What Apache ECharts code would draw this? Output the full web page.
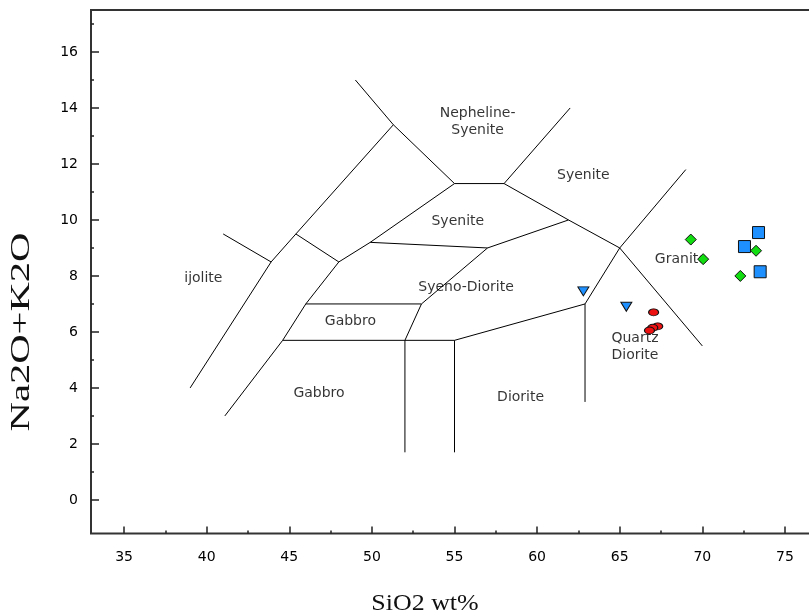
<!DOCTYPE html>
<html><head><meta charset="utf-8">
<script src="https://cdn.jsdelivr.net/npm/echarts@6/dist/echarts.min.js"></script>
<style>html,body{margin:0;padding:0;background:#fff;overflow:hidden;width:809px;height:615px}#c{width:840px;height:615px}</style>
</head><body><div id="c"></div>
<script>
// ---- data ----
const xTicks = [35, 40, 45, 50, 55, 60, 65, 70, 75];
const xMinorTicks = [37.5, 42.5, 47.5, 52.5, 57.5, 62.5, 67.5, 72.5];
const yTicks = [0, 2, 4, 6, 8, 10, 12, 14, 16];
const yMinorTicks = [1, 3, 5, 7, 9, 11, 13, 15, 17];

// field boundary polylines [SiO2, Na2O+K2O]
const boundaries = [
  [[39, 4.0], [43.9, 8.5], [45.4, 9.5], [51.3, 13.4]],
  [[41, 9.5], [43.9, 8.5]],
  [[41.1, 3.0], [44.6, 5.7], [46, 7.0], [48, 8.5], [49.9, 9.2], [55, 11.3]],
  [[45.4, 9.5], [48, 8.5]],
  [[49, 15], [51.3, 13.4], [55, 11.3], [58, 11.3], [62, 14]],
  [[58, 11.3], [61.9, 10], [65, 9], [70, 5.5]],
  [[49.9, 9.2], [57, 9], [61.9, 10]],
  [[46, 7], [53, 7]],
  [[44.6, 5.7], [52, 5.7], [55, 5.7], [62.9, 7]],
  [[52, 1.7], [52, 5.7], [53, 7], [57, 9]],
  [[55, 1.7], [55, 5.7]],
  [[62.9, 3.5], [62.9, 7], [65, 9], [69, 11.8]]
];

// field names and their positions
const fieldNames = ['Nepheline-\nSyenite', 'Syenite', 'Syenite', 'ijolite', 'Syeno-Diorite', 'Gabbro', 'Gabbro', 'Diorite', 'Granite', 'Quartz\nDiorite'];
const fieldPos = [[56.4, 13.5], [62.8, 11.58], [55.2, 9.95], [39.8, 7.92], [55.7, 7.6], [48.7, 6.37], [46.8, 3.82], [59.0, 3.67], [68.7, 8.58], [64.5, 5.46]];

// samples
const triangles = [[62.8, 7.45], [65.4, 6.9]];
const circles = [[67.05, 6.7], [67.3, 6.2], [67.0, 6.15], [66.8, 6.05]];
const diamonds = [[69.3, 9.3], [70.05, 8.6], [73.25, 8.9], [72.3, 8.0]];
const squares = [[73.4, 9.55], [72.55, 9.05], [73.5, 8.15]];

// ---- chart ----
const chart = echarts.init(document.getElementById('c'), null, {renderer: 'canvas'});
const tickFont = {fontFamily: 'DejaVu Sans', fontSize: 14, color: '#000'};

const series = [];
boundaries.forEach(function (b) {
  series.push({
    type: 'line', data: b, symbol: 'none', silent: true,
    lineStyle: {color: '#000', width: 1}, z: 2
  });
});
series.push({
  type: 'scatter', symbolSize: 0, silent: true, z: 3,
  data: fieldNames.map(function (n, i) {
    const item = {name: n, value: fieldPos[i]};
    if (n.indexOf('Quartz') === 0) item.label = {align: 'left'};
    return item;
  }),
  label: {show: true, position: 'inside', formatter: '{b}', color: '#000',
    fontFamily: 'DejaVu Sans', fontSize: 14, lineHeight: 17}
});
const mk = function (data, symbol, size, color, rot) {
  return {type: 'scatter', data: data, symbol: symbol, symbolSize: size, symbolRotate: rot || 0,
    itemStyle: {color: color, borderColor: '#111', borderWidth: 1, opacity: 1}, z: 4};
};
series.push(mk(triangles, 'triangle', [11, 9], '#1e90ff', 180));
series.push(mk(circles, 'circle', [10, 7], '#ee1111'));
series.push(mk(diamonds, 'diamond', [11, 11], '#11dd11'));
series.push(mk(squares, 'rect', [12, 12], '#1e90ff'));

chart.setOption({
  animation: false,
  backgroundColor: '#fff',
  grid: {left: 91, top: 10, width: 727, height: 523.5, show: true, borderColor: '#333', borderWidth: 2, containLabel: false},
  xAxis: [
    {type: 'value', min: 33, max: 77, position: 'bottom',
      axisLine: {show: false, onZero: false}, splitLine: {show: false},
      axisTick: {show: true, inside: true, length: 7, customValues: xTicks, lineStyle: {color: '#222', width: 1.5}},
      axisLabel: Object.assign({show: true, margin: 17, customValues: xTicks}, tickFont)},
    {type: 'value', min: 33, max: 77, position: 'bottom',
      axisLine: {show: false, onZero: false}, splitLine: {show: false},
      axisTick: {show: true, inside: true, length: 3, customValues: xMinorTicks, lineStyle: {color: '#222', width: 1.5}},
      axisLabel: {show: false}}
  ],
  yAxis: [
    {type: 'value', min: -1.2, max: 17.5, position: 'left',
      axisLine: {show: false, onZero: false}, splitLine: {show: false},
      axisTick: {show: true, inside: true, length: 8, customValues: yTicks, lineStyle: {color: '#222', width: 1.5}},
      axisLabel: Object.assign({show: true, margin: 13, customValues: yTicks}, tickFont)},
    {type: 'value', min: -1.2, max: 17.5, position: 'left',
      axisLine: {show: false, onZero: false}, splitLine: {show: false},
      axisTick: {show: true, inside: true, length: 3, customValues: yMinorTicks, lineStyle: {color: '#222', width: 1.5}},
      axisLabel: {show: false}}
  ],
  graphic: [
    {type: 'text', x: 425, y: 604, scaleX: 1.08, silent: true,
      style: {text: 'SiO2 wt%', font: '24px "Liberation Serif"', fill: '#111', align: 'center', verticalAlign: 'middle'}},
    {type: 'text', x: 22, y: 332, rotation: Math.PI / 2, scaleX: 1.45, silent: true,
      style: {text: 'Na2O+K2O', font: '28px "Liberation Serif"', fill: '#111', align: 'center', verticalAlign: 'middle'}}
  ],
  series: series
});
</script>
</body></html>
